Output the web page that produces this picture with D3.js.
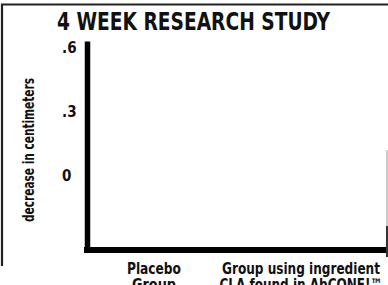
<!DOCTYPE html>
<html>
<head>
<meta charset="utf-8">
<script src="https://cdn.jsdelivr.net/npm/d3@7"></script>
<style>
  body { margin: 0; background: #fff; }
  svg { display: block; }
  text { font-family: "Liberation Sans Narrow", "DejaVu Sans Condensed", "Roboto", sans-serif; font-weight: bold; fill: #111; }
</style>
</head>
<body>
<div id="chart"></div>
<script>
// chart data
var title = "4 WEEK RESEARCH STUDY";
var yLabel = "decrease in centimeters";
var categories = ["Placebo Group", "Group using ingredient CLA found in AbCONE!\u2122"];
var categoryLines = [["Placebo", "Group"], ["Group using ingredient", "CLA found in AbCONE!\u2122"]];
var yTicks = [0, 0.3, 0.6];
var yTickLabels = ["0", ".3", ".6"];
var yDomain = [-0.35, 0.63];

var W = 388, H = 285;
var margin = { top: 41, right: 2, bottom: 35, left: 87 };

var svg = d3.select("#chart").append("svg")
    .attr("width", W)
    .attr("height", H);

// outer frame of the scanned box
svg.append("path")
    .attr("d", "M2,266V4.5H388")
    .attr("fill", "none")
    .attr("stroke", "#222")
    .attr("stroke-width", 2.2);
svg.append("line")
    .attr("x1", 387).attr("x2", 387)
    .attr("y1", 150).attr("y2", 226)
    .attr("stroke", "#bbb").attr("stroke-width", 1.5);
svg.append("line")
    .attr("x1", 387).attr("x2", 387)
    .attr("y1", 226).attr("y2", 257)
    .attr("stroke", "#333").attr("stroke-width", 2);

// title
svg.append("text")
    .attr("x", 193.5)
    .attr("y", 30)
    .attr("text-anchor", "middle")
    .style("font-size", "24px")
    .attr("textLength", 273)
    .attr("lengthAdjust", "spacingAndGlyphs")
    .text(title);

var y = d3.scaleLinear()
    .domain(yDomain)
    .range([H - margin.bottom, margin.top]);

// category centres sit at ~154 and ~301
var x = d3.scaleBand()
    .domain(categories)
    .range([80.5, 374.5])
    .padding(0);

// y axis
var yAxis = d3.axisLeft(y)
    .tickValues(yTicks)
    .tickSize(0)
    .tickFormat(function (d, i) { return yTickLabels[i]; });

var gy = svg.append("g")
    .attr("transform", "translate(" + margin.left + ",0)")
    .call(yAxis);
gy.attr("font-family", null).attr("font-size", null);
gy.select(".domain")
    .attr("stroke", "#000")
    .attr("stroke-width", 5.5);
gy.selectAll(".tick text")
    .attr("x", -25)
    .attr("text-anchor", "start")
    .style("font-size", "15px");

// baseline
svg.append("line")
    .attr("x1", margin.left - 3)
    .attr("x2", W - margin.right)
    .attr("y1", y(yDomain[0]))
    .attr("y2", y(yDomain[0]))
    .attr("stroke", "#000")
    .attr("stroke-width", 6);

// category labels
var lineWidths = [[54, 44], [158, 163]];
var xAxis = d3.axisBottom(x).tickSize(0).tickFormat("");
var gx = svg.append("g")
    .attr("transform", "translate(0," + y(yDomain[0]) + ")")
    .call(xAxis);
gx.attr("font-family", null).attr("font-size", null);
gx.select(".domain").remove();
gx.selectAll(".tick").each(function (d, i) {
    var g = d3.select(this);
    categoryLines[i].forEach(function (line, j) {
        g.append("text")
            .attr("x", 0)
            .attr("y", 24 + j * 16)
            .attr("text-anchor", "middle")
            .style("font-size", "16px")
            .attr("textLength", lineWidths[i][j])
            .attr("lengthAdjust", "spacingAndGlyphs")
            .text(line);
    });
});

// y axis title
svg.append("text")
    .attr("transform", "translate(34," + 150 + ") rotate(-90)")
    .attr("text-anchor", "middle")
    .style("font-size", "16px")
    .attr("textLength", 144)
    .attr("lengthAdjust", "spacingAndGlyphs")
    .text(yLabel);
</script>
</body>
</html>
